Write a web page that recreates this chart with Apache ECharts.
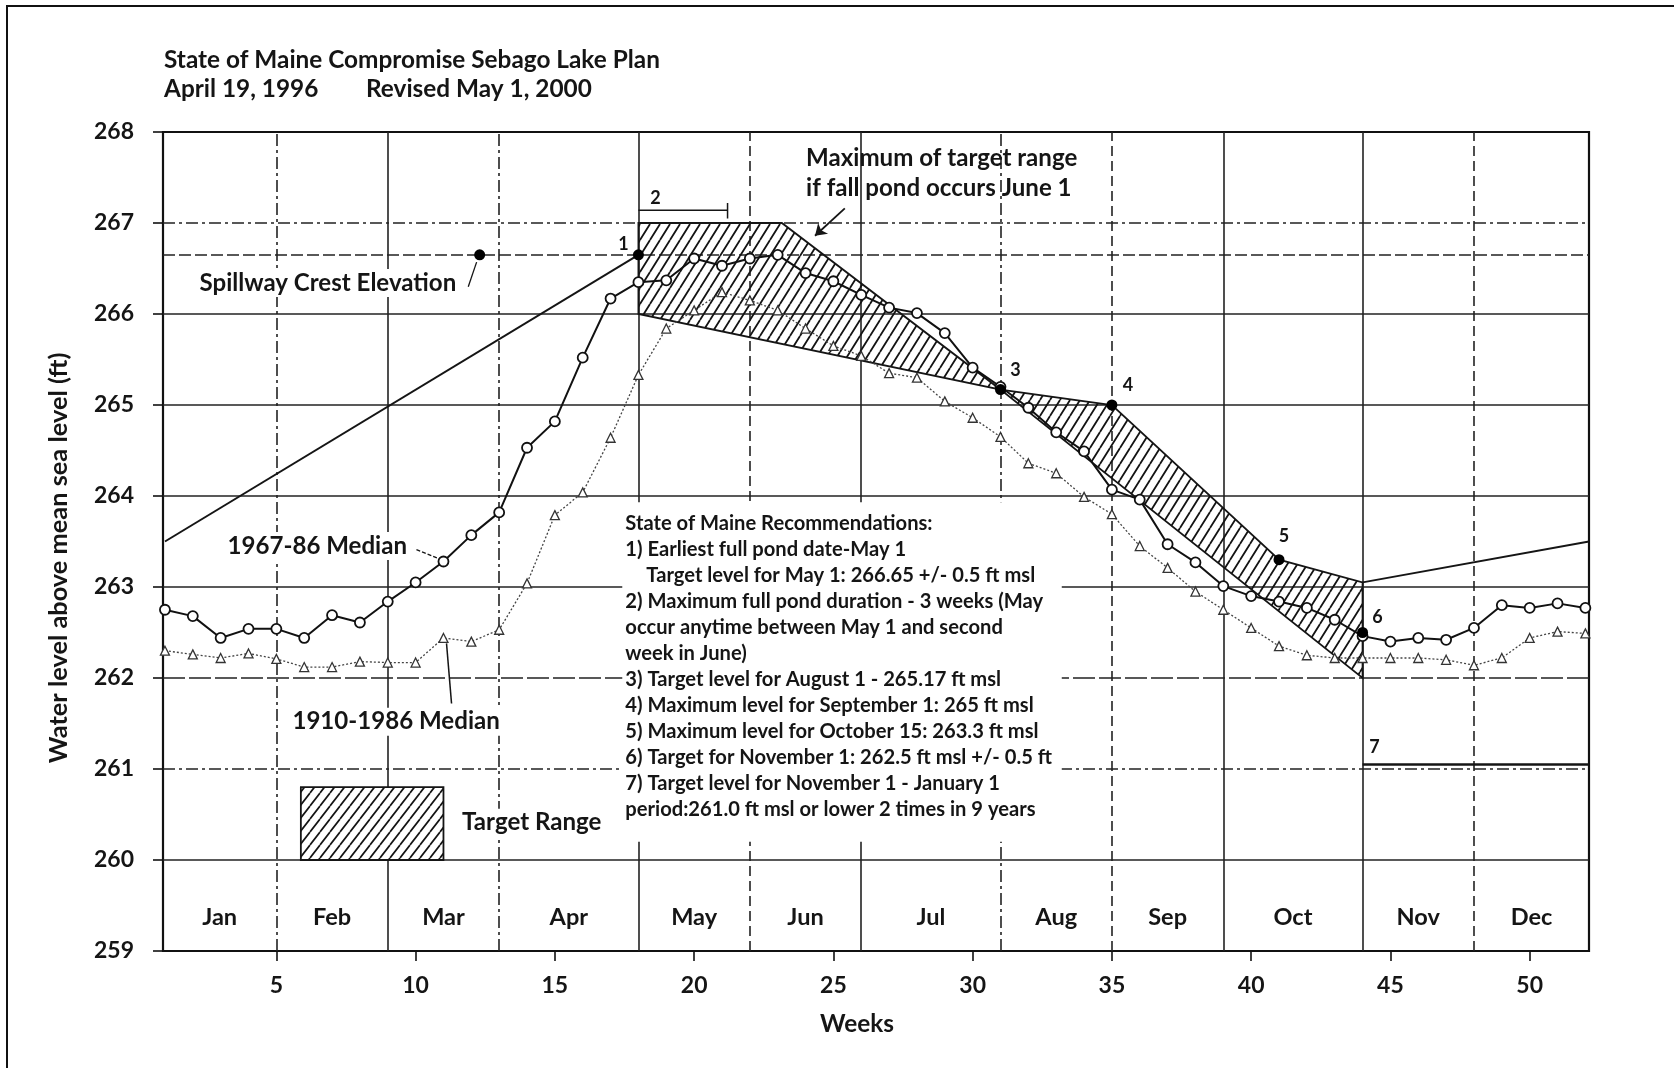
<!DOCTYPE html>
<html><head><meta charset="utf-8">
<script src="https://cdn.jsdelivr.net/npm/echarts@6/dist/echarts.min.js"></script>
<style>html,body{margin:0;padding:0;background:#fff}#c{width:1674px;height:1068px}</style>
</head><body><div id="c"></div>
<script>
// ---------------- DATA ----------------
const weeks = [1,2,3,4,5,6,7,8,9,10,11,12,13,14,15,16,17,18,19,20,21,22,23,24,25,26,
  27,28,29,30,31,32,33,34,35,36,37,38,39,40,41,42,43,44,45,46,47,48,49,50,51,52];
const median1967_86 = [262.75,262.68,262.44,262.54,262.54,262.44,262.69,262.61,262.84,263.05,
  263.28,263.57,263.82,264.53,264.82,265.52,266.17,266.35,266.37,266.61,266.53,266.61,266.65,
  266.45,266.36,266.21,266.07,266.01,265.79,265.41,265.20,264.97,264.70,264.49,264.07,263.96,
  263.47,263.27,263.01,262.90,262.84,262.77,262.64,262.46,262.40,262.44,262.42,262.55,262.80,
  262.77,262.82,262.77];
const median1910_1986 = [262.30,262.26,262.22,262.27,262.21,262.12,262.12,262.18,262.17,262.17,
  262.44,262.40,262.53,263.04,263.79,264.04,264.64,265.33,265.84,266.04,266.24,266.15,266.04,
  265.84,265.65,265.54,265.35,265.30,265.04,264.86,264.65,264.36,264.25,263.99,263.80,263.45,
  263.21,262.95,262.75,262.55,262.35,262.25,262.22,262.22,262.22,262.22,262.20,262.14,262.22,
  262.44,262.51,262.49];
const yTicks = [259,260,261,262,263,264,265,266,267,268];
const xTickLabels = [5,10,15,20,25,30,35,40,45,50];
const months = ['Jan','Feb','Mar','Apr','May','Jun','Jul','Aug','Sep','Oct','Nov','Dec'];
const monthBounds = [0.93,5,9,13,18,22,26,31,35,39,44,48,52.13];
const ruleLine = [[1,263.5],[18,266.65]];
const targetRange = [[18,266.0],[18,267.0],[23.15,267.0],[31,265.17],[35,265.0],[41,263.3],
  [44,263.05],[44,262.0],[31,265.17]];
const novDecMax = [[44,263.05],[52.13,263.5]];
const novJanTarget = [[44,261.05],[52.13,261.05]];
const keyPoints = [[18,266.65],[31,265.17],[35,265.0],[41,263.3],[44,262.5]];
const keyLabels = ['1','3','4','5','6'];
const spillwayCrest = 266.65;
const spillwayDot = [12.3,266.65];
const fullPondBracket = [[18,267.14],[21.2,267.14]];
const fullPondBracketEnd = [[21.2,267.22],[21.2,267.05]];
const recommendations = [
  'State of Maine Recommendations:',
  '1) Earliest full pond date-May 1',
  'Target level for May 1: 266.65 +/- 0.5 ft msl',
  '2) Maximum full pond duration - 3 weeks (May',
  'occur anytime between May 1 and second',
  'week in June)',
  '3) Target level for August 1 - 265.17 ft msl',
  '4) Maximum level for September 1: 265 ft msl',
  '5) Maximum level for October 15: 263.3 ft msl',
  '6) Target for November 1: 262.5 ft msl +/- 0.5 ft',
  '7) Target level for November 1 - January 1',
  'period:261.0 ft msl or lower 2 times in 9 years'
];

// ---------------- HELPERS ----------------
const FF = 'Lato, "Open Sans", sans-serif';
const INK = '#151515';
const mctx = document.createElement('canvas').getContext('2d');
function fit(text, width, weight) {
  mctx.font = (weight || 'bold') + ' 100px Lato';
  return 100 * width / mctx.measureText(text).width;
}
function hatch(w, h, lw, bg) {
  const c = document.createElement('canvas');
  c.width = w; c.height = h;
  const x = c.getContext('2d');
  if (bg) { x.fillStyle = bg; x.fillRect(0, 0, w, h); }
  x.strokeStyle = '#141414'; x.lineWidth = lw;
  x.beginPath();
  for (let k = -1; k <= 1; k++) { x.moveTo(k * w, h); x.lineTo(k * w + w, 0); }
  x.stroke();
  return c;
}
const hatchClear = hatch(10, 16, 1.8, null);
const hatchWhite = hatch(10, 13, 1.7, '#fff');

const fsTitle = fit('State of Maine Compromise Sebago Lake Plan', 496);
const fsBlock = fit('6) Target for November 1: 262.5 ft msl +/- 0.5 ft', 427);
const fsLabel = fit('Spillway Crest Elevation', 257);
const fsTick = fit('268', 40);
const fsMonth = fit('May', 46);

const dashDot = [12, 4, 3, 4];
const dashed = [10, 5];
const hGrid = [[260,'solid'],[261,dashDot],[262,[22,4]],[263,'solid'],[264,'solid'],[265,'solid'],[266,'solid'],[267,dashDot]];
const vStyles = [dashDot,'solid',dashDot,'solid',dashed,'solid',dashDot,dashed,'solid','solid',dashed];

const chart = echarts.init(document.getElementById('c'), null, {renderer: 'canvas'});

const gridMarks = [];
hGrid.forEach(([v, t]) => gridMarks.push({yAxis: v, lineStyle: {type: t}}));
monthBounds.slice(1, -1).forEach((w, i) => gridMarks.push({xAxis: w, lineStyle: {type: vStyles[i]}}));
gridMarks.push({yAxis: spillwayCrest, lineStyle: {type: [12, 4], width: 1.6}});

function seg(data, extra) {
  return Object.assign({type: 'line', data: data, symbol: 'none', silent: true, z: 5,
    lineStyle: {color: INK, width: 1.8}}, extra || {});
}

const option = {
  animation: false,
  backgroundColor: '#fff',
  grid: {left: 163, top: 132, width: 1426, height: 819, show: true, borderColor: '#111', borderWidth: 2.2},
  xAxis: {type: 'value', min: 0.93, max: 52.13, axisLine: {show: false}, splitLine: {show: false},
    axisTick: {show: true, customValues: xTickLabels, length: 10, lineStyle: {color: '#111', width: 1.6}},
    axisLabel: {customValues: xTickLabels, fontSize: fsTick, fontWeight: 'bold', fontFamily: FF, color: INK, margin: 23}},
  yAxis: {type: 'value', min: 259, max: 268, interval: 1, axisLine: {show: false}, splitLine: {show: false},
    axisTick: {show: true, length: 10, lineStyle: {color: '#111', width: 1.6}},
    axisLabel: {fontSize: fsTick, fontWeight: 'bold', fontFamily: FF, color: INK, margin: 29}},
  series: [
    {type: 'line', data: [[1, 259]], symbol: 'none', lineStyle: {width: 0}, silent: true, z: 1,
      markLine: {silent: true, z: 1, symbol: ['none', 'none'], label: {show: false},
        lineStyle: {color: '#222', width: 1.6}, data: gridMarks}},
    {type: 'custom', z: 3, silent: true, data: [[0, 0]],
      renderItem: function (params, api) {
        return {type: 'polygon', shape: {points: targetRange.map(p => api.coord(p))},
          style: {fill: {image: hatchClear, repeat: 'repeat'}, stroke: INK, lineWidth: 1.8}};
      }},
    seg(ruleLine, {lineStyle: {color: INK, width: 2}}),
    seg(novDecMax),
    seg(novJanTarget, {lineStyle: {color: INK, width: 2.4}}),
    seg(fullPondBracket, {lineStyle: {color: INK, width: 1.5}}),
    seg(fullPondBracketEnd, {lineStyle: {color: INK, width: 1.5}}),
    seg([[12.19,266.57],[11.89,266.30]], {lineStyle: {color: INK, width: 1.3}}),
    seg([[10.03,263.41],[10.93,263.30]], {lineStyle: {color: INK, width: 1.3, type: [4, 2]}}),
    seg([[11.11,262.38],[11.29,261.72]], {lineStyle: {color: INK, width: 1.5}}),
    {type: 'line', data: [[1, 259]], symbol: 'none', lineStyle: {width: 0}, silent: true, z: 6,
      markLine: {silent: true, z: 6, symbol: ['none', 'arrow'], symbolSize: 11, label: {show: false},
        lineStyle: {color: INK, width: 1.8, type: 'solid'},
        data: [[{coord: [25.41, 267.16]}, {coord: [24.34, 266.86]}]]}},
    {name: '1910-1986 Median', type: 'line', z: 7, data: weeks.map((w, i) => [w, median1910_1986[i]]),
      symbol: 'triangle', symbolSize: 9, showAllSymbol: true,
      itemStyle: {color: '#fff', borderColor: '#333', borderWidth: 1.3},
      lineStyle: {color: '#444', width: 1.3, type: [2, 2]}},
    {name: '1967-86 Median', type: 'line', z: 8, data: weeks.map((w, i) => [w, median1967_86[i]]),
      symbol: 'circle', symbolSize: 10, showAllSymbol: true,
      itemStyle: {color: '#fff', borderColor: '#111', borderWidth: 1.8},
      lineStyle: {color: '#111', width: 2}},
    {type: 'scatter', z: 9, data: keyPoints.concat([spillwayDot]), symbolSize: 11,
      itemStyle: {color: '#000', opacity: 1}, silent: true}
  ]
};
chart.setOption(option);

const P = (w, v) => chart.convertToPixel({gridIndex: 0}, [w, v]);
const g = [];
function txt(x, y, text, size, opt) {
  opt = opt || {};
  const el = {type: 'text', x: x, y: y, z: opt.z || 20, rotation: opt.rotation || 0,
    style: {text: text, fontSize: size, fontWeight: opt.weight || 'bold', fontFamily: FF,
      fill: opt.fill || INK, align: opt.align || 'center', verticalAlign: opt.va || 'middle',
      textAlign: opt.align || 'center', textVerticalAlign: opt.va || 'middle'}};
  if (opt.bg) { el.style.backgroundColor = '#fff'; el.style.padding = opt.pad || [2, 4]; }
  g.push(el);
}
// outer frame (only top and left edges fall inside the picture)
g.push({type: 'rect', z: 0, shape: {x: 7, y: 6, width: 1720, height: 1120}, style: {fill: 'none', stroke: '#111', lineWidth: 2}});
// title
txt(164, 60, 'State of Maine Compromise Sebago Lake Plan', fsTitle, {align: 'left'});
txt(164, 89, 'April 19, 1996', fsTitle, {align: 'left'});
txt(366, 89, 'Revised May 1, 2000', fsTitle, {align: 'left'});
// axis names
txt(59, 558, 'Water level above mean sea level (ft)', fit('Water level above mean sea level (ft)', 411), {rotation: Math.PI / 2});
txt(857, 1024, 'Weeks', fit('Weeks', 74));
// white box behind recommendations
const bTL = P(17.42, 263.93), bBR = P(33.2, 260.2);
g.push({type: 'rect', z: 2, shape: {x: bTL[0], y: bTL[1], width: bBR[0] - bTL[0], height: bBR[1] - bTL[1]}, style: {fill: '#fff'}});
const r0 = P(17.53, 263.70);
recommendations.forEach((line, i) => {
  txt(r0[0] + (i === 2 ? 21 : 0), r0[1] + i * 26, line, fsBlock, {align: 'left'});
});
// month labels
months.forEach((m, i) => {
  const c = P((monthBounds[i] + monthBounds[i + 1]) / 2, 259.37);
  txt(c[0], c[1], m, fsMonth);
});
// annotations
let p = P(6.85, 266.34); txt(p[0], p[1], 'Spillway Crest Elevation', fsLabel, {bg: true});
p = P(6.47, 263.45); txt(p[0], p[1], '1967-86 Median', fsLabel, {bg: true});
p = P(9.30, 261.52); txt(p[0], p[1], '1910-1986 Median', fsLabel, {bg: true});
p = P(14.17, 260.41); txt(p[0], p[1], 'Target Range', fsLabel, {bg: true});
p = P(24.02, 267.71); txt(p[0], p[1], 'Maximum of target range', fsLabel, {align: 'left'});
p = P(24.02, 267.38); txt(p[0], p[1], 'if fall pond occurs June 1', fsLabel, {align: 'left'});
// legend swatch
const lA = P(5.88, 260.8), lB = P(11, 260.0);
g.push({type: 'rect', z: 4, shape: {x: lA[0], y: lA[1], width: lB[0] - lA[0], height: lB[1] - lA[1]},
  style: {fill: {image: hatchWhite, repeat: 'repeat'}, stroke: INK, lineWidth: 1.8}});
// point labels
const offs = [[-15, -11], [15, -19], [16, -20], [5, -24], [15, -15]];
keyPoints.forEach((kp, i) => { const q = P(kp[0], kp[1]); txt(q[0] + offs[i][0], q[1] + offs[i][1], keyLabels[i], 18); });
p = P(18, 267.14); txt(p[0] + 17, p[1] - 12, '2', 18);
p = P(44, 261.05); txt(p[0] + 12, p[1] - 17, '7', 18);

chart.setOption({graphic: {elements: g}});
</script></body></html>
